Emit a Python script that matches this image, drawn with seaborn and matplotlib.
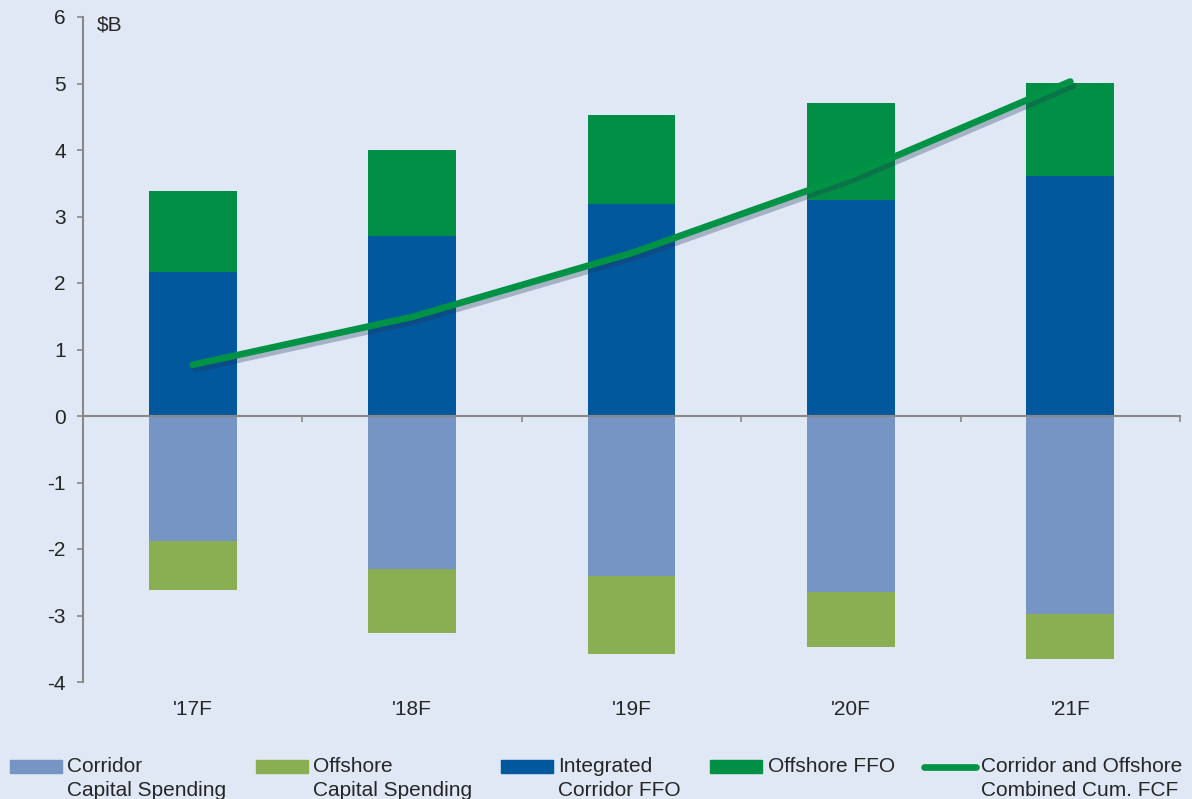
import numpy as np
import pandas as pd
import matplotlib
matplotlib.use('Agg')
import matplotlib.pyplot as plt
import seaborn as sns
from matplotlib.patches import Patch
from matplotlib.lines import Line2D
from matplotlib.legend_handler import HandlerPatch, HandlerLine2D
import matplotlib.patheffects as pe

# data ($B)
years = ["'17F", "'18F", "'19F", "'20F", "'21F"]
corridor_capex = [-1.88, -2.30, -2.41, -2.65, -2.98]
offshore_capex = [-0.74, -0.96, -1.17, -0.83, -0.67]
integrated_ffo = [2.17, 2.71, 3.19, 3.25, 3.61]
offshore_ffo = [1.22, 1.29, 1.34, 1.45, 1.39]
combined_fcf = [0.77, 1.49, 2.45, 3.62, 5.03]
y_ticks = [-4, -3, -2, -1, 0, 1, 2, 3, 4, 5, 6]

legend_labels = ['Corridor\nCapital Spending', 'Offshore\nCapital Spending',
                 'Integrated\nCorridor FFO', 'Offshore FFO\n ',
                 'Corridor and Offshore\nCombined Cum. FCF']

bg = '#dfe8f4'
c_corr_cap = '#7795c4'
c_off_cap = '#8aaf52'
c_int_ffo = '#02589c'
c_off_ffo = '#008f45'
c_line = '#009245'
grey = '#888888'

sns.set_style('white')
plt.rcParams['font.family'] = ['Liberation Sans', 'DejaVu Sans']
plt.rcParams['axes.unicode_minus'] = False

fig = plt.figure(figsize=(11.92, 7.99), dpi=100, facecolor=bg)
ax = fig.add_axes([83 / 1192, 1 - 682 / 799, 1097 / 1192, 665 / 799])
ax.set_facecolor(bg)

bar_kw = dict(width=0.4, saturation=1, errorbar=None, linewidth=0, ax=ax)
# negative side
sns.barplot(x=years, y=corridor_capex, color=c_corr_cap, **bar_kw)
sns.barplot(x=years, y=offshore_capex, bottom=np.array(corridor_capex), color=c_off_cap, **bar_kw)
# positive side
sns.barplot(x=years, y=integrated_ffo, color=c_int_ffo, **bar_kw)
sns.barplot(x=years, y=offshore_ffo, bottom=np.array(integrated_ffo), color=c_off_ffo, **bar_kw)

sns.lineplot(x=years, y=combined_fcf, sort=False, color=c_line, linewidth=4.8,
             solid_capstyle='round', ax=ax, zorder=5,
             path_effects=[pe.SimpleLineShadow(offset=(2, -3), shadow_color='#223355', alpha=0.3),
                           pe.Normal()])

ax.set_xlim(-0.5, 4.5)
ax.set_ylim(-4, 6)
ax.set_yticks(y_ticks)
ax.set_xlabel('')
ax.set_ylabel('')

for s in ['top', 'right']:
    ax.spines[s].set_visible(False)
ax.spines['left'].set_color(grey)
ax.spines['left'].set_linewidth(1.5)
ax.spines['bottom'].set_position(('data', 0))
ax.spines['bottom'].set_color(grey)
ax.spines['bottom'].set_linewidth(1.5)
ax.spines['bottom'].set_zorder(4)

ax.tick_params(axis='y', length=4.5, width=1.2, color=grey, labelsize=15, pad=8, left=True)
ax.set_xticks(np.arange(0.5, 5, 1), minor=True)
ax.tick_params(axis='x', which='minor', length=4.5, width=1.2, color=grey, bottom=True)
ax.tick_params(axis='x', which='major', length=0, labelbottom=False)

for i, yr in enumerate(years):
    ax.text(i, -0.042, yr, transform=ax.get_xaxis_transform(), ha='center', va='center', fontsize=15)

ax.text(0.0128, 0.988, r'\$B', transform=ax.transAxes, ha='left', va='center', fontsize=15)


# legend handles sit on the first line of the two-line labels
class UpPatch(HandlerPatch):
    def create_artists(self, legend, orig_handle, xdescent, ydescent, width, height, fontsize, trans):
        return super().create_artists(legend, orig_handle, xdescent, ydescent - 0.6 * fontsize,
                                      width, height, fontsize, trans)


class UpLine(HandlerLine2D):
    def create_artists(self, legend, orig_handle, xdescent, ydescent, width, height, fontsize, trans):
        return super().create_artists(legend, orig_handle, xdescent, ydescent - 1.2 * fontsize,
                                      width, height, fontsize, trans)


handles = [Patch(color=c_corr_cap), Patch(color=c_off_cap), Patch(color=c_int_ffo),
           Patch(color=c_off_ffo),
           Line2D([], [], color=c_line, linewidth=4.8, solid_capstyle='round')]
hmap = {h: (UpLine() if isinstance(h, Line2D) else UpPatch()) for h in handles}
leg = fig.legend(handles, legend_labels, handler_map=hmap, loc='upper left',
                 bbox_to_anchor=(0.0084, 0.052), ncol=5, frameon=False, fontsize=15,
                 handlelength=2.5, handleheight=0.55, handletextpad=0.25, columnspacing=1.4,
                 borderpad=0, borderaxespad=0)
for t in leg.get_texts():
    t.set_linespacing(1.3)

fig.savefig('out.png', dpi=100, facecolor=bg)
